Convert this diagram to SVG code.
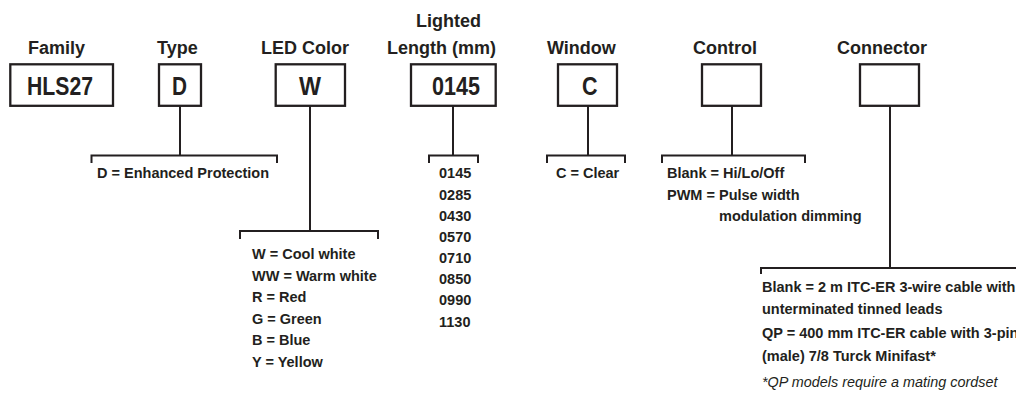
<svg xmlns="http://www.w3.org/2000/svg" width="1016" height="394" viewBox="0 0 1016 394">
<style>
  .bg { fill: #ffffff; }
  .box { fill: #ffffff; stroke: #231f20; stroke-width: 2.3; }
  .line { fill: none; stroke: #231f20; stroke-width: 2; }
  .label { font-family: "Liberation Sans", Arial, sans-serif; font-weight: bold; font-size: 18px; fill: #231f20; }
  .value { font-family: "Liberation Sans Narrow", "Liberation Sans", Arial, sans-serif; font-weight: bold; font-size: 26px; fill: #231f20; }
  .opt { font-family: "Liberation Sans", Arial, sans-serif; font-weight: bold; font-size: 14.5px; fill: #231f20; }
  .note { font-family: "Liberation Sans", Arial, sans-serif; font-style: italic; font-size: 14.4px; fill: #231f20; }
</style>
<rect class="bg" x="0" y="0" width="1016" height="394"/>

<g id="connectors">
  <path class="line" d="M180,106 V155.5 M91.5,163 V155.5 H277 V163"/>
  <path class="line" d="M310,106 V231 M240,239 V231 H378 V239"/>
  <path class="line" d="M453,106 V155.5 M429,163 V155.5 H478 V163"/>
  <path class="line" d="M588,106 V155.5 M547,163 V155.5 H625 V163"/>
  <path class="line" d="M732,106 V155.5 M662,163 V155.5 H805 V163"/>
  <path class="line" d="M890,106 V268 M761,274 V268 H1020"/>
</g>

<g id="node-family">
  <text class="label" x="28" y="54">Family</text>
  <rect class="box" x="10.3" y="64.3" width="102.7" height="41.5"/>
  <text class="value" x="27" y="94.5" textLength="66" lengthAdjust="spacingAndGlyphs">HLS27</text>
</g>

<g id="node-type">
  <text class="label" x="157" y="54">Type</text>
  <rect class="box" x="159" y="64.3" width="42" height="41.5"/>
  <text class="value" x="172" y="94.5" textLength="15" lengthAdjust="spacingAndGlyphs">D</text>
</g>

<g id="node-led-color">
  <text class="label" x="261" y="54">LED Color</text>
  <rect class="box" x="275.7" y="64.3" width="69.3" height="41.5"/>
  <text class="value" x="299" y="95" textLength="22" lengthAdjust="spacingAndGlyphs">W</text>
</g>

<g id="node-lighted-length">
  <text class="label" x="448.5" y="27" text-anchor="middle">Lighted</text>
  <text class="label" x="441.5" y="53.5" text-anchor="middle">Length (mm)</text>
  <rect class="box" x="411" y="64.3" width="84.7" height="41.5"/>
  <text class="value" x="432" y="95" textLength="48" lengthAdjust="spacingAndGlyphs">0145</text>
</g>

<g id="node-window">
  <text class="label" x="547" y="54">Window</text>
  <rect class="box" x="558" y="64.3" width="59" height="41.5"/>
  <text class="value" x="582" y="94.5" textLength="15.5" lengthAdjust="spacingAndGlyphs">C</text>
</g>

<g id="node-control">
  <text class="label" x="693" y="54">Control</text>
  <rect class="box" x="702" y="64.3" width="59" height="41.5"/>
</g>

<g id="node-connector">
  <text class="label" x="837" y="54">Connector</text>
  <rect class="box" x="860" y="64.3" width="59" height="41.5"/>
</g>

<g id="options-type">
  <text class="opt" x="97" y="178">D = Enhanced Protection</text>
</g>

<g id="options-led-color">
  <text class="opt" x="252" y="259">W = Cool white</text>
  <text class="opt" x="252" y="280.5">WW = Warm white</text>
  <text class="opt" x="252" y="302">R = Red</text>
  <text class="opt" x="252" y="323.5">G = Green</text>
  <text class="opt" x="252" y="345">B = Blue</text>
  <text class="opt" x="252" y="366.5">Y = Yellow</text>
</g>

<g id="options-lighted-length">
  <text class="opt" x="439" y="178.3">0145</text>
  <text class="opt" x="439" y="199.5">0285</text>
  <text class="opt" x="439" y="220.7">0430</text>
  <text class="opt" x="439" y="242">0570</text>
  <text class="opt" x="439" y="263">0710</text>
  <text class="opt" x="439" y="284.2">0850</text>
  <text class="opt" x="439" y="305.4">0990</text>
  <text class="opt" x="439" y="326.7">1130</text>
</g>

<g id="options-window">
  <text class="opt" x="556" y="178">C = Clear</text>
</g>

<g id="options-control">
  <text class="opt" x="667" y="178.3">Blank = Hi/Lo/Off</text>
  <text class="opt" x="667" y="200">PWM = Pulse width</text>
  <text class="opt" x="719" y="221">modulation dimming</text>
</g>

<g id="options-connector">
  <text class="opt" x="762" y="292">Blank = 2 m ITC-ER 3-wire cable with</text>
  <text class="opt" x="762" y="314">unterminated tinned leads</text>
  <text class="opt" x="762" y="338">QP = 400 mm ITC-ER cable with 3-pin</text>
  <text class="opt" x="762" y="361">(male) 7/8 Turck Minifast*</text>
  <text class="note" x="762" y="387">*QP models require a mating cordset</text>
</g>
</svg>
